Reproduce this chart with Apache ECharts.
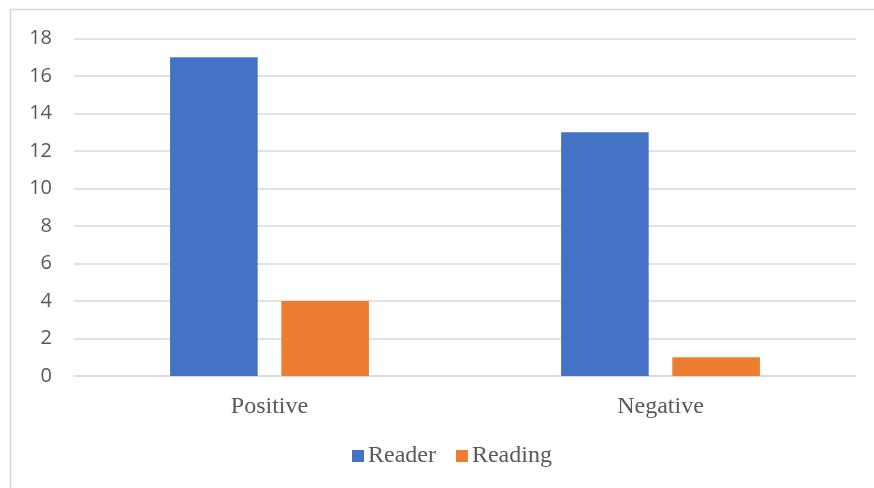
<!DOCTYPE html>
<html>
<head>
<meta charset="utf-8">
<script src="https://cdn.jsdelivr.net/npm/echarts@6/dist/echarts.min.js"></script>
<style>
  html, body { margin: 0; padding: 0; background: #ffffff; }
  #chart { width: 874px; height: 488px; }
</style>
</head>
<body>
<div id="chart"></div>
<script>
// Sentiment counts per category
const categories = ['Positive', 'Negative'];
const readerValues = [17, 13];
const readingValues = [4, 1];
const yTicks = { min: 0, max: 18, step: 2 };

const chart = echarts.init(document.getElementById('chart'), null, { renderer: 'canvas' });

const serif = 'Liberation Serif';
const sans = 'Open Sans';
const textGray = '#595959';
const lineGray = '#d9d9d9';

chart.setOption({
  backgroundColor: '#ffffff',
  animation: false,
  graphic: [{
    type: 'rect',
    silent: true,
    shape: { x: 10.5, y: 9.5, width: 900, height: 520 },
    style: { fill: 'none', stroke: lineGray, lineWidth: 1.5 }
  }],
  grid: { left: 74, right: 18, top: 38.5, bottom: 112, containLabel: false },
  legend: {
    left: 352,
    top: 444,
    padding: 0,
    itemWidth: 12,
    itemHeight: 12,
    itemGap: 20,
    icon: 'rect',
    textStyle: { fontFamily: serif, fontSize: 24, color: textGray, padding: [0, 0, 0, -1] },
    data: ['Reader', 'Reading']
  },
  xAxis: {
    type: 'category',
    data: categories,
    axisLine: { show: true, lineStyle: { color: lineGray, width: 1.5 } },
    axisTick: { show: false },
    axisLabel: { margin: 19, fontFamily: serif, fontSize: 24, color: textGray }
  },
  yAxis: {
    type: 'value',
    min: yTicks.min,
    max: yTicks.max,
    interval: yTicks.step,
    axisLine: { show: false },
    axisTick: { show: false },
    splitLine: { lineStyle: { color: lineGray, width: 1.5 } },
    axisLabel: { margin: 22, fontFamily: sans, fontSize: 20, color: textGray }
  },
  series: [
    {
      name: 'Reader',
      type: 'bar',
      data: readerValues,
      barWidth: '22.4%',
      barGap: '27%',
      itemStyle: { color: '#4472C4' }
    },
    {
      name: 'Reading',
      type: 'bar',
      data: readingValues,
      barWidth: '22.4%',
      itemStyle: { color: '#ED7D31' }
    }
  ]
});
</script>
</body>
</html>
